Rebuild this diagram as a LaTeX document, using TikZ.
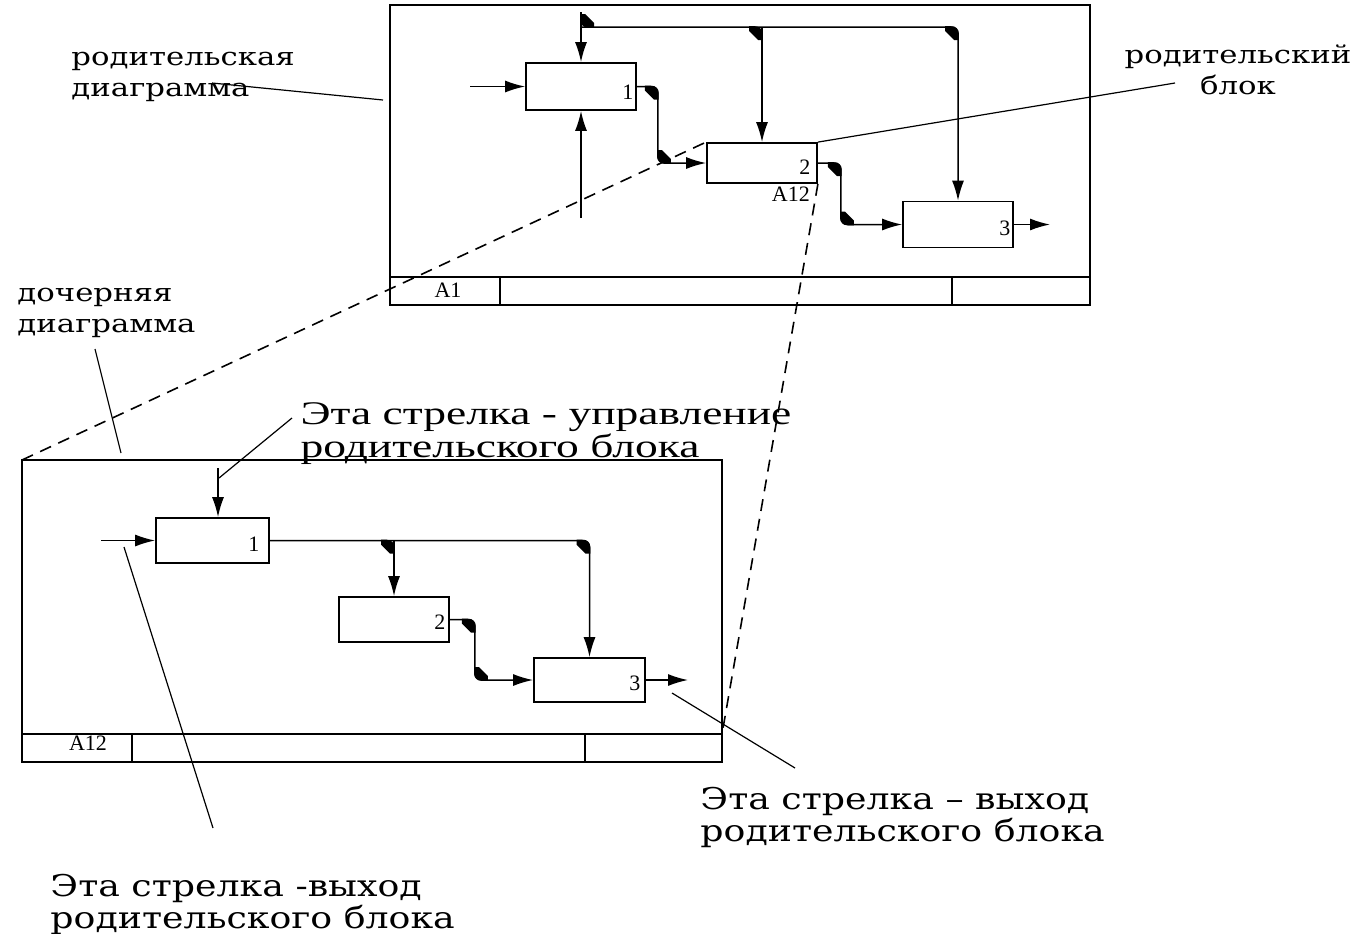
\documentclass[tikz,border=0pt]{standalone}
\usepackage{fontspec}
\setmainfont{Liberation Serif}
\newfontfamily\widefont{DejaVu Serif}
\usetikzlibrary{arrows.meta,calc}

\tikzset{
  rd/.pic={\fill (-13,-0.8) [rounded corners=4pt] -- (0.8,-0.8) [sharp corners] -- (0.8,13) -- (-4,13) -- (-13,4) -- cycle;},
  dr/.pic={\fill (-0.8,-13) [rounded corners=4pt] -- (-0.8,0.8) [sharp corners] -- (13,0.8) -- (13,-4) -- (4,-13) -- cycle;}
}

\begin{document}
\begin{tikzpicture}[x=0.5pt,y=-0.5pt,>={Latex[length=10pt,width=6pt]},
   box/.style={draw,line width=0.9pt,minimum width=55pt,minimum height=23pt,inner sep=0pt},
   num/.style={font=\fontsize{11}{11}\selectfont,inner sep=0pt},
   flow/.style={->,line width=0.75pt,rounded corners=3pt},
   frame/.style={line width=1pt},
   lead/.style={line width=0.6pt},
   guide/.style={line width=0.8pt,dash pattern=on 6pt off 4pt},
   lbl/.style={font=\widefont\fontsize{12.5}{15.5}\selectfont,align=left,inner sep=0pt,anchor=north west,xscale=1.23,transform shape},
   note/.style={font=\widefont\fontsize{15}{14.5}\selectfont,align=left,inner sep=0pt,anchor=north west,xscale=1.21,transform shape}]
   \useasboundingbox (0,0) rectangle (1359,933);

   % parent diagram
   \draw[frame] (390,5) rectangle (1090,305);
   \draw[frame] (390,277) -- (1090,277);
   \draw[frame] (500,277) -- (500,305);
   \draw[frame] (952,277) -- (952,305);
   \node[num] (pnode) at (448,290) {A1};

   \node[box,minimum height=23.5pt] (pb1) at (581,86.5) {};
   \node[box,minimum height=20pt] (pb2) at (762,163) {};
   \node[box,minimum height=23pt] (pb3) at (958,224.5) {};
   \node[num] at ($(pb1.east)+(-9,6)$) {1};
   \node[num] at ($(pb2.east)+(-13,4)$) {2};
   \node[num] at ($(pb3.east)+(-9,4)$) {3};
   \node[num] (pref) at ($(pb2.south east)+(-27,10)$) {A12};

   \coordinate (pin) at (470,86.5);
   \coordinate (pctl) at (581,12);
   \coordinate (pj) at (581,27);
   \coordinate (pmech) at (581,218);
   \coordinate (pout) at (1050,224.5);
   \coordinate (pk1) at ($(pb1.east)+(21,0)$);
   \coordinate (pk2) at ($(pb2.east)+(23,0)$);

   \draw[flow] (pin) -- (pb1.west);
   \draw[flow] (pctl) -- (pb1.north);
   \draw[flow] (pj) -| (pb3.north);
   \draw[flow] (pb2.north |- pj) -- (pb2.north);
   \draw[flow] (pmech) -- (pb1.south);
   \draw[flow] (pb1.east) -- (pk1) |- (pb2.west);
   \draw[flow] (pb2.east) -- (pk2) |- (pb3.west);
   \draw[flow] (pb3.east) -- (pout);

   \pic at (pj) {dr};
   \pic at (pb2.north |- pj) {rd};
   \pic at (pb3.north |- pj) {rd};
   \pic at (pk1) {rd};
   \pic at (pk1 |- pb2.west) {dr};
   \pic at (pk2) {rd};
   \pic at (pk2 |- pb3.west) {dr};

   % child diagram
   \draw[frame] (22,460) rectangle (722,762);
   \draw[frame] (22,734) -- (722,734);
   \draw[frame] (132,734) -- (132,762);
   \draw[frame] (585,734) -- (585,762);
   \node[num] (cnode) at (88,743) {A12};

   \node[box,minimum width=56.5pt,minimum height=22.5pt] (cb1) at (212.5,540.5) {};
   \node[box,minimum height=22.5pt] (cb2) at (394,619.5) {};
   \node[box,minimum width=55.5pt,minimum height=22pt] (cb3) at (589.5,680) {};
   \node[num] at ($(cb1.east)+(-16,4)$) {1};
   \node[num] at ($(cb2.east)+(-10,3)$) {2};
   \node[num] at ($(cb3.east)+(-11,3)$) {3};

   \coordinate (cin) at (101,540.5);
   \coordinate (cctl) at (218,468);
   \coordinate (cout) at (688,680);
   \coordinate (ck1) at ($(cb2.east)+(25,0)$);

   \draw[flow] (cin) -- (cb1.west);
   \draw[flow] (cctl) -- (cctl |- cb1.north);
   \draw[flow] (cb1.east) -| (cb3.north);
   \draw[flow] (cb2.north |- cb1.east) -- (cb2.north);
   \draw[flow] (cb2.east) -- (ck1) |- (cb3.west);
   \draw[flow] (cb3.east) -- (cout);

   \pic at (cb2.north |- cb1.east) {rd};
   \pic at (cb3.north |- cb1.east) {rd};
   \pic at (ck1) {rd};
   \pic at (ck1 |- cb3.west) {dr};

   % decomposition guides
   \draw[guide] (22,460) -- (pb2.north west);
   \draw[guide] (pb2.south east) -- (722,734);

   % labels
   \node[lbl] (tpd) at (71,52) {родительская\\диаграмма};
   \node[lbl] (tdd) at (17,288) {дочерняя\\диаграмма};
   \node[lbl,align=center,anchor=north] (tpb) at (1238,44) {родительский\\блок};
   \node[note,font=\fontsize{16.5}{14}\selectfont,xscale=1.14] (tctl) at (300,402) {Эта стрелка - управление\\родительского блока};
   \node[note] (tout) at (700,787) {Эта стрелка – выход\\родительского блока};
   \node[note] (tin) at (50,874) {Эта стрелка -выход\\родительского блока};

   \draw[lead] (212,83) -- (383,100);
   \draw[lead] (1175,83) -- (pb2.north east);
   \draw[lead] (95,349) -- (121,453);
   \draw[lead] (292,418) -- (219,478);
   \draw[lead] (672,693) -- (795,768);
   \draw[lead] (124,547) -- (213,828);
\end{tikzpicture}
\end{document}
